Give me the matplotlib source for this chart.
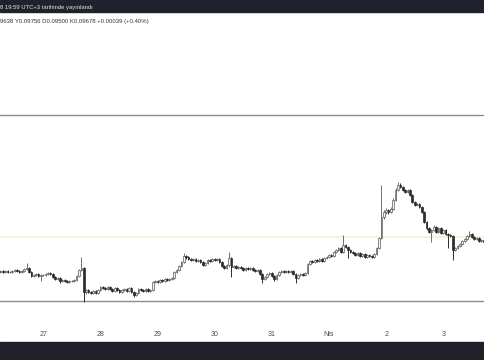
import numpy as np
import matplotlib.pyplot as plt
from matplotlib.patches import Rectangle

# hourly candles, prices in units of 0.0001
opens = [
    933, 934, 933, 934, 933, 933, 934, 935, 934, 933, 934, 936,
    937, 933, 929, 930, 931, 929, 930, 930, 931, 932, 931, 928,
    926, 927, 924, 925, 924, 923, 924, 924, 925, 929, 935, 937,
    913, 915, 913, 912, 914, 912, 915, 918, 917, 916, 918, 916,
    914, 917, 915, 913, 915, 916, 914, 917, 913, 910, 912, 916,
    915, 914, 916, 914, 915, 923, 924, 923, 925, 924, 926, 925,
    926, 927, 933, 935, 939, 943, 949, 948, 946, 945, 946, 944,
    945, 943, 940, 942, 945, 944, 946, 945, 946, 943, 939, 937,
    940, 947, 938, 939, 937, 938, 937, 935, 937, 936, 937, 935,
    934, 935, 931, 926, 928, 931, 932, 929, 926, 930, 933, 934,
    933, 934, 933, 934, 931, 927, 930, 931, 930, 932, 941, 944,
    943, 945, 944, 946, 944, 947, 948, 950, 949, 953, 955, 957,
    953, 960, 958, 955, 953, 952, 950, 952, 949, 951, 948, 950,
    949, 948, 951, 957, 967, 988, 993, 995, 993, 996, 1005, 1015,
    1020, 1018, 1015, 1013, 1015, 1010, 1003, 1000, 1001, 998, 993, 983,
    977, 973, 975, 978, 973, 977, 972, 975, 971, 970, 969, 955,
    957, 959, 961, 964, 966, 969, 971, 968, 966, 967, 964, 965,
]
highs = [
    935, 935, 935, 935, 934, 935, 936, 936, 935, 935, 937, 942,
    938, 934, 931, 932, 932, 931, 931, 932, 933, 933, 932, 929,
    928, 928, 926, 926, 925, 925, 925, 926, 930, 936, 948, 938,
    916, 916, 914, 915, 915, 916, 919, 919, 918, 919, 919, 917,
    918, 918, 916, 916, 917, 917, 918, 918, 914, 913, 917, 917,
    916, 917, 917, 916, 924, 925, 925, 926, 926, 927, 927, 927,
    928, 934, 936, 940, 944, 952, 950, 949, 947, 947, 947, 946,
    946, 944, 943, 946, 946, 947, 947, 947, 947, 944, 940, 941,
    953, 948, 940, 940, 939, 939, 938, 938, 938, 938, 938, 936,
    936, 936, 932, 929, 932, 933, 933, 930, 931, 934, 935, 935,
    935, 935, 935, 935, 932, 931, 932, 932, 933, 942, 945, 945,
    946, 946, 947, 947, 948, 949, 951, 951, 954, 956, 958, 958,
    970, 961, 959, 956, 954, 953, 953, 953, 952, 952, 951, 951,
    950, 952, 958, 968, 1020, 995, 997, 996, 998, 1007, 1017, 1023,
    1022, 1019, 1016, 1016, 1016, 1011, 1004, 1002, 1002, 999, 994, 984,
    978, 976, 980, 979, 978, 978, 976, 976, 972, 971, 970, 958,
    960, 962, 965, 967, 970, 974, 972, 969, 968, 968, 966, 966,
]
lows = [
    932, 932, 932, 932, 932, 932, 933, 933, 932, 932, 933, 935,
    932, 928, 928, 929, 928, 924, 929, 929, 930, 930, 927, 925,
    925, 922, 923, 923, 922, 922, 923, 923, 924, 928, 934, 903,
    911, 912, 911, 911, 911, 911, 914, 916, 915, 915, 915, 913,
    913, 914, 912, 912, 914, 913, 913, 912, 908, 909, 911, 914,
    913, 913, 913, 913, 914, 922, 922, 922, 923, 923, 924, 924,
    925, 926, 932, 934, 938, 942, 946, 945, 944, 944, 943, 943,
    942, 939, 939, 941, 943, 943, 944, 944, 942, 938, 936, 936,
    938, 928, 937, 936, 936, 936, 934, 934, 935, 935, 934, 933,
    933, 930, 922, 925, 927, 930, 928, 924, 925, 929, 932, 932,
    932, 932, 932, 930, 922, 926, 929, 929, 929, 931, 940, 942,
    942, 943, 943, 943, 943, 946, 947, 948, 948, 952, 954, 952,
    952, 957, 947, 952, 951, 949, 949, 948, 948, 947, 947, 948,
    947, 947, 950, 956, 966, 986, 991, 991, 992, 995, 1004, 1014,
    1017, 1014, 1012, 1012, 1009, 1002, 999, 999, 997, 992, 982, 975,
    972, 963, 974, 972, 972, 971, 971, 970, 957, 968, 945, 954,
    956, 958, 960, 963, 965, 968, 967, 965, 965, 963, 963, 962,
]
closes = [
    934, 933, 934, 933, 933, 934, 935, 934, 933, 934, 936, 937,
    933, 929, 930, 931, 929, 930, 930, 931, 932, 931, 928, 926,
    927, 924, 925, 924, 923, 924, 924, 925, 929, 935, 937, 913,
    915, 913, 912, 914, 912, 915, 918, 917, 916, 918, 916, 914,
    917, 915, 913, 915, 916, 914, 917, 913, 910, 912, 916, 915,
    914, 916, 914, 915, 923, 924, 923, 925, 924, 926, 925, 926,
    927, 933, 935, 939, 943, 949, 948, 946, 945, 946, 944, 945,
    943, 940, 942, 945, 944, 946, 945, 946, 943, 939, 937, 940,
    947, 938, 939, 937, 938, 937, 935, 937, 936, 937, 935, 934,
    935, 931, 926, 928, 931, 932, 929, 926, 930, 933, 934, 933,
    934, 933, 934, 931, 927, 930, 931, 930, 932, 941, 944, 943,
    945, 944, 946, 944, 947, 948, 950, 949, 953, 955, 957, 953,
    960, 958, 955, 953, 952, 950, 952, 949, 951, 948, 950, 949,
    948, 951, 957, 967, 988, 993, 995, 993, 996, 1005, 1015, 1020,
    1018, 1015, 1013, 1015, 1010, 1003, 1000, 1001, 998, 993, 983, 977,
    973, 975, 978, 973, 977, 972, 975, 971, 970, 969, 955, 957,
    959, 961, 964, 966, 969, 971, 968, 966, 967, 964, 965, 963,
]

# day labels and the candle (hour) index where each day starts
day_labels = ['27', '28', '29', '30', '31', 'Nis', '2', '3']
day_hours = [18, 42, 66, 90, 114, 138, 162, 186]

# horizontal lines drawn on the chart
level_lines = [0.1090, 0.0904]
last_line = 0.0968

top_text = '8 19:59 UTC+3 tarihinde yayınlandı'
ohlc_text = '9638 Y0.09756 D0.09500 K0.09678 +0.00039 (+0.40%)'

o = np.array(opens) / 10000
h = np.array(highs) / 10000
l = np.array(lows) / 10000
c = np.array(closes) / 10000
idx = np.arange(len(c))

fig = plt.figure(figsize=(4.85, 3.6), dpi=100)
fig.patch.set_facecolor('white')

# main chart area between the two dark bars
ax = fig.add_axes([0, 18 / 360, 1, 330 / 360])
ax.set_xlim(-0.17, 203.53)
ax.set_ylim(0.0863, 0.1193)
ax.axis('off')

up = c >= o

# wicks
ax.vlines(idx[up], l[up], h[up], color='#707070', lw=0.7, zorder=3)
ax.vlines(idx[~up], l[~up], h[~up], color='#2e2e2e', lw=0.7, zorder=3)

# bodies
bottom = np.minimum(o, c)
height = np.maximum(np.abs(c - o), 0.00004)
ax.bar(idx[up], height[up], bottom=bottom[up], width=0.7,
       color='#f2f2f2', edgecolor='#5a5a5a', lw=0.5, zorder=4)
ax.bar(idx[~up], height[~up], bottom=bottom[~up], width=0.7,
       color='#2b2b2b', edgecolor='#2b2b2b', lw=0.5, zorder=4)

# horizontal lines
for y in level_lines:
    ax.axhline(y, color='#8c8c8c', lw=1.0, zorder=2)
ax.axhline(last_line, color='#f8f2c4', lw=1.2, zorder=1)

# time axis labels
for hr, lab in zip(day_hours, day_labels):
    ax.text(hr, 7 / 330, lab, transform=ax.get_xaxis_transform(),
            ha='center', va='center', fontsize=5, color='#4a4a4a',
            family='Liberation Sans')

# dark bars at the top and bottom
fig.patches.append(Rectangle((0, 348 / 360), 1, 12 / 360, transform=fig.transFigure,
                             color='#1e222d', zorder=0))
fig.patches.append(Rectangle((0, 0), 1, 18 / 360, transform=fig.transFigure,
                             color='#1f2029', zorder=0))

fig.text(0.0, 1 - 7 / 360, top_text, ha='left', va='center',
         fontsize=4.2, color='#e6e6e6', family='Liberation Sans')
fig.text(0.0, 1 - 21 / 360, ohlc_text, ha='left', va='center',
         fontsize=4.35, color='#333333', family='Liberation Sans')

fig.savefig('out.png', dpi=100)
